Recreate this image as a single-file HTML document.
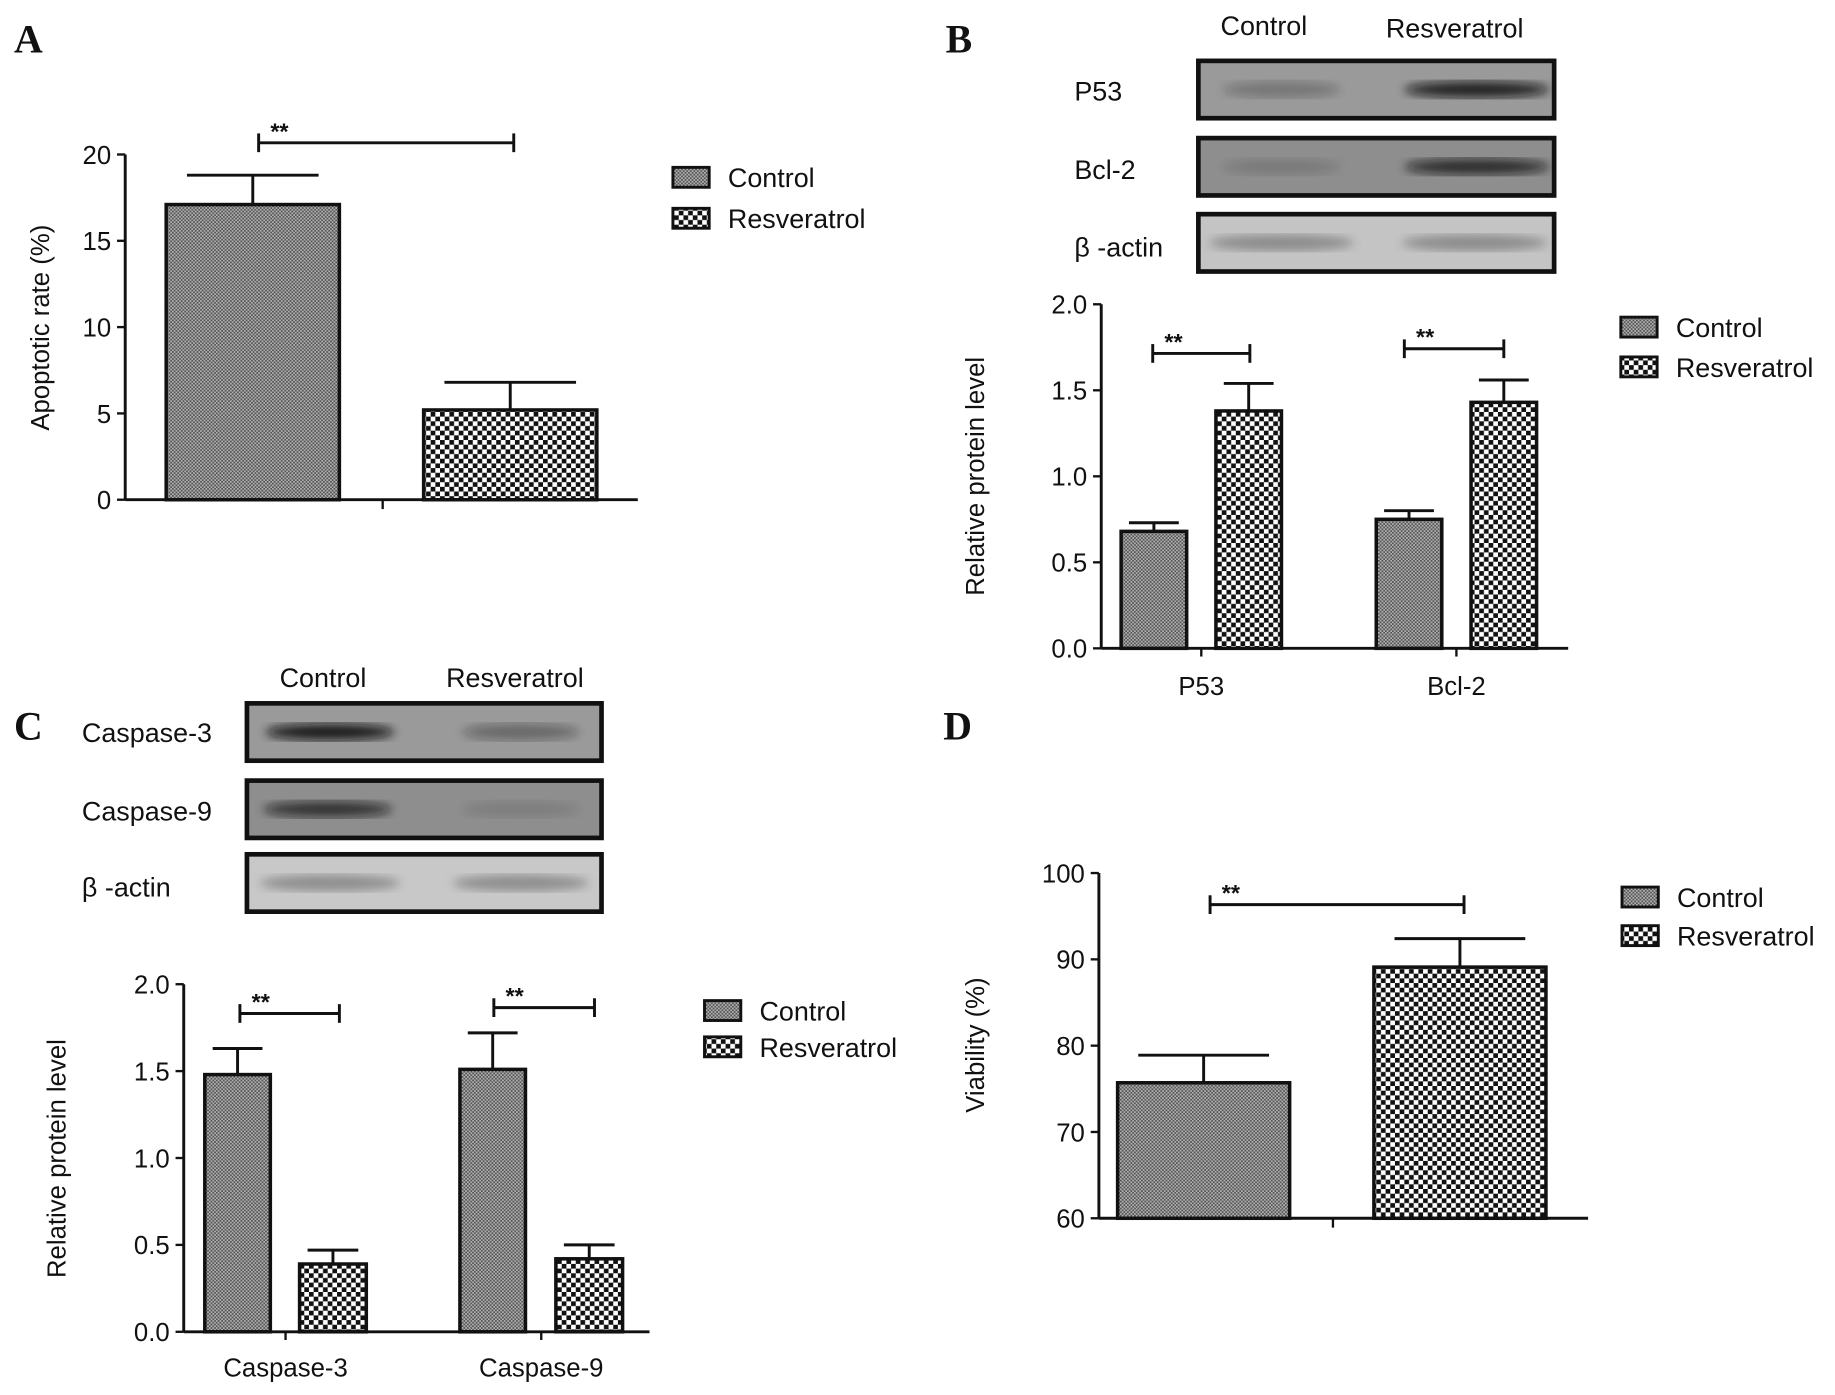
<!DOCTYPE html>
<html><head><meta charset="utf-8"><style>
html,body{margin:0;padding:0;background:#fff}
svg{display:block}
text{font-family:"Liberation Sans",sans-serif;fill:#111}
</style></head><body>
<svg id="fig" width="1835" height="1395" viewBox="0 0 1568 1192" xmlns="http://www.w3.org/2000/svg">
<defs>
<pattern id="pCtrl" width="3" height="3" patternUnits="userSpaceOnUse"><rect width="3" height="3" fill="#b0b0b0"/><rect width="1.5" height="1.5" fill="#555"/><rect x="1.5" y="1.5" width="1.5" height="1.5" fill="#555"/></pattern>
<pattern id="pRes" width="8" height="8" patternUnits="userSpaceOnUse"><rect width="8" height="8" fill="#fff"/><rect width="4" height="4" fill="#111"/><rect x="4" y="4" width="4" height="4" fill="#111"/></pattern>
<filter id="blur"><feGaussianBlur stdDeviation="4"/></filter>
</defs>
<g id="root"></g>
</svg>
<script>
// Panel A data
const aCats=["Control","Resveratrol"];
const aVals=[17.1,5.2];
const aErrs=[1.7,1.6];
const aTicks=[0,5,10,15,20];
// Panel B data
const bCats=["P53","Bcl-2"];
const bCtrl=[0.68,0.75];
const bCtrlErr=[0.05,0.05];
const bRes=[1.38,1.43];
const bResErr=[0.16,0.13];
const bTicks=["0.0","0.5","1.0","1.5","2.0"];
// Panel C data
const cCats=["Caspase-3","Caspase-9"];
const cCtrl=[1.48,1.51];
const cCtrlErr=[0.15,0.21];
const cRes=[0.39,0.42];
const cResErr=[0.08,0.08];
const cTicks=["0.0","0.5","1.0","1.5","2.0"];
// Panel D data
const dCats=["Control","Resveratrol"];
const dVals=[75.7,89.1];
const dErrs=[3.2,3.3];
const dTicks=[60,70,80,90,100];

const NS="http://www.w3.org/2000/svg";
const root=document.getElementById('root');
function mk(tag,attrs,parent,txt){const e=document.createElementNS(NS,tag);for(const k in attrs)e.setAttribute(k,attrs[k]);if(txt!==undefined)e.textContent=txt;(parent||root).appendChild(e);return e;}
function line(x1,y1,x2,y2,p,w){return mk('line',{x1,y1,x2,y2,stroke:'#111','stroke-width':w||2.5},p);}

function axisY(g,x,yScale,ticks,y0,y1){
  const l=line(x,y0,x,y1,g);
  
  
  ticks.forEach(t=>{const y=yScale(+t);line(x-7,y,x,y,g,2);
    const tx=mk('text',{x:x-12,y:y+8,'text-anchor':'end','font-size':22},g,String(t));
    
    });
}
function bar(g,x,w,yScale,base,v,err,fill,name){
  const y=yScale(v),yb=yScale(base),ye=yScale(v+err);
  const cx=x+w/2;
  line(cx,y,cx,ye,g,2.5);line(cx-w*0.38,ye,cx+w*0.38,ye,g,2.5);
  const r=mk('rect',{x:x,y:y,width:w,height:yb-y,fill:`url(#${fill})`,stroke:'#111','stroke-width':3},g);
  
  
}
function sig(g,x1,x2,y){line(x1,y,x2,y,g,2.5);line(x1,y-8,x1,y+8,g,2.5);line(x2,y-8,x2,y+8,g,2.5);
  const t=mk('text',{x:x1+10,y:y-3,'font-size':20,'font-weight':'bold'},g,'**');
  
  }
function legend(g,x,y1,y2){
  [[y1,'pCtrl','Control'],[y2,'pRes','Resveratrol']].forEach(([y,p,n])=>{
    const r=mk('rect',{x:x,y:y,width:31,height:17,fill:`url(#${p})`,stroke:'#111','stroke-width':2.5},g);
    
    
    const t=mk('text',{x:x+47,y:y+17,'font-size':23},g,n);
    
    });
}
function ytitle(g,x,cy,txt){const t=mk('text',{x:x,y:cy,'font-size':22,'text-anchor':'middle',transform:`rotate(-90 ${x} ${cy})`},g,txt);
  
  }
function letter(x,y,s){const t=mk('text',{x,y,'font-size':34,'font-weight':'bold',style:'font-family:"Liberation Serif",serif'},root,s);
  
  }
function blot(g,x,y,w,h,bg,bands,name){
  const gg=mk('g',{},g);
  
  
  mk('rect',{x,y,width:w,height:h,fill:bg},gg);
  bands.forEach(([cx,bw,op,col])=>mk('ellipse',{cx:cx,cy:y+h/2,rx:bw,ry:h*0.14,fill:col||'#111',opacity:op,filter:'url(#blur)'},gg));
  mk('rect',{x,y,width:w,height:h,fill:'none',stroke:'#111','stroke-width':4},gg);
}
function lbl(g,x,y,s,anchor,size){const t=mk('text',{x,y,'font-size':size||23,'text-anchor':anchor||'start'},g,s);
  
  return t;}

// ---------- Panel A ----------
letter(12,45,'A');
const gA=mk('g',{});
const yA=v=>427-(v-0)/20*295;
axisY(gA,107,yA,aTicks,427,132);
line(107,427,545,427,gA);line(327,427,327,435,gA,2);
const aX=[142,362];
aVals.forEach((v,i)=>bar(gA,aX[i],148,yA,0,v,aErrs[i],i?'pRes':'pCtrl','bar-'+aCats[i].toLowerCase()));
sig(gA,221,439,122);
ytitle(gA,42,280,'Apoptotic rate (%)');
legend(gA,575,143,178);

// ---------- Panel B ----------
letter(808,45,'B');
const gB=mk('g',{});
lbl(gB,1080,30,'Control','middle');lbl(gB,1243,32,'Resveratrol','middle');
blot(gB,1024,52,304,49,'#9a9a9a',[[1095,50,0.25],[1262,62,0.85]],'blot-p53');
blot(gB,1024,118,304,49,'#8e8e8e',[[1095,50,0.15],[1262,62,0.75]],'blot-bcl2');
blot(gB,1024,183,304,49,'#c4c4c4',[[1095,62,0.5,'#555'],[1260,62,0.5,'#555']],'blot-b-actin');
lbl(gB,918,86,'P53');lbl(gB,918,153,'Bcl-2');lbl(gB,918,219,'β -actin');
const yB=v=>554-v/2*294;
axisY(gB,941,yB,bTicks,554,260);
line(941,554,1340,554,gB);
const bCX=[958,1176],bRX=[1039,1257];
bCats.forEach((c,i)=>{
  bar(gB,bCX[i],56,yB,0,bCtrl[i],bCtrlErr[i],'pCtrl','bar-'+c.toLowerCase()+'-control');
  bar(gB,bRX[i],56,yB,0,bRes[i],bResErr[i],'pRes','bar-'+c.toLowerCase()+'-resveratrol');
  line((bCX[i]+bRX[i]+56)/2,554,(bCX[i]+bRX[i]+56)/2,561,gB,2);
  lbl(gB,(bCX[i]+bRX[i]+56)/2,594,c,'middle',22);
});
sig(gB,985,1068,302);sig(gB,1200,1285,298);
ytitle(gB,841,407,'Relative protein level');
legend(gB,1385,271,305);

// ---------- Panel C ----------
letter(12,632,'C');
const gC=mk('g',{});
lbl(gC,276,587,'Control','middle');lbl(gC,440,587,'Resveratrol','middle');
blot(gC,211,601,303,49,'#9a9a9a',[[282,55,0.9],[445,50,0.35]],'blot-caspase-3');
blot(gC,211,667,303,49,'#8e8e8e',[[280,55,0.7],[445,50,0.12]],'blot-caspase-9');
blot(gC,211,730,303,49,'#c8c8c8',[[282,60,0.5,'#555'],[445,58,0.5,'#555']],'blot-b-actin-c');
lbl(gC,70,634,'Caspase-3');lbl(gC,70,701,'Caspase-9');lbl(gC,70,766,'β -actin');
const yC=v=>1138-v/2*297;
axisY(gC,157,yC,cTicks,1138,841);
line(157,1138,555,1138,gC);
const cCX=[175,393],cRX=[256,475];
cCats.forEach((c,i)=>{
  bar(gC,cCX[i],56,yC,0,cCtrl[i],cCtrlErr[i],'pCtrl','bar-'+c.toLowerCase()+'-control');
  bar(gC,cRX[i],57,yC,0,cRes[i],cResErr[i],'pRes','bar-'+c.toLowerCase()+'-resveratrol');
  line((cCX[i]+cRX[i]+57)/2,1138,(cCX[i]+cRX[i]+57)/2,1145,gC,2);
  lbl(gC,(cCX[i]+cRX[i]+57)/2,1176,c,'middle',22);
});
sig(gC,205,290,866);sig(gC,422,508,861);
ytitle(gC,56,990,'Relative protein level');
legend(gC,602,855,886);

// ---------- Panel D ----------
letter(806,632,'D');
const gD=mk('g',{});
const yD=v=>1041-(v-60)/40*295;
axisY(gD,939,yD,dTicks,1041,746);
line(939,1041,1357,1041,gD);line(1139,1041,1139,1049,gD,2);
const dX=[955,1174];
dVals.forEach((v,i)=>bar(gD,dX[i],147,yD,60,v,dErrs[i],i?'pRes':'pCtrl','bar-'+dCats[i].toLowerCase()));
sig(gD,1034,1251,773);
ytitle(gD,841,893,'Viability (%)');
legend(gD,1386,758,791);
</script>
</body></html>
